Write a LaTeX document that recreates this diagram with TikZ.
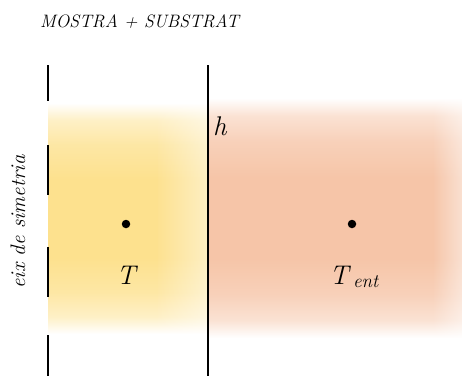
\documentclass[tikz,border=0pt]{standalone}
\usepackage{fontspec}
\usepackage{xcolor}
\usetikzlibrary{fadings}

\definecolor{mostra}{RGB}{253,225,142}
\definecolor{substrat}{RGB}{246,197,168}

\pgfdeclareverticalshading{mostraband}{100bp}{color(0bp)=(white); color(25bp)=(white); color(28.7bp)=(mostra!50); color(34bp)=(mostra!80); color(41.5bp)=(mostra); color(58.5bp)=(mostra); color(66bp)=(mostra!80); color(71.3bp)=(mostra!50); color(75bp)=(white); color(100bp)=(white)}
\pgfdeclareverticalshading{substratband}{100bp}{color(0bp)=(white); color(25bp)=(white); color(28.7bp)=(substrat!50); color(34bp)=(substrat!80); color(41.5bp)=(substrat); color(58.5bp)=(substrat); color(66bp)=(substrat!80); color(71.3bp)=(substrat!50); color(75bp)=(white); color(100bp)=(white)}
\begin{tikzfadingfrompicture}[name=edgefade]
  \shade[left color=transparent!100, right color=transparent!50] (0,0) rectangle (2,2);
\end{tikzfadingfrompicture}

\begin{document}
\begin{tikzpicture}[
  x=1pt, y=-1pt,
  wall/.style={line width=1.7pt, black},
  tempdot/.style={circle, fill=black, inner sep=0pt, minimum size=8.5pt},
  templabel/.style={font=\fontsize{27}{27}\selectfont\itshape, inner sep=0pt},
  title/.style={font=\fontsize{18}{18}\selectfont\itshape, anchor=west, inner sep=0pt},
]
\useasboundingbox (0,0) rectangle (462,376);
% Layout in pixel units: (0,0) top left, y grows downwards.
\def\xaxis{48}     % symmetry axis
\def\xwall{208}    % sample / substrate boundary
\def\xend{462}

% ─── Shaded regions ──────────────────────────────────────────────────────
\shade[shading=mostraband]   (\xaxis, 103) rectangle (\xwall, 334);
\fill[white, path fading=edgefade, fit fading=true] (158, 103) rectangle (\xwall, 334);
\shade[shading=substratband] (\xwall, 98) rectangle (\xend, 338);
\fill[white, path fading=edgefade, fit fading=true] (434, 98) rectangle (\xend, 338);

% ─── Walls ───────────────────────────────────────────────────────────────
\coordinate (walltop) at (\xwall, 65);
\coordinate (wallbot) at (\xwall, 376);
\draw[wall] (walltop) -- (wallbot);

% Symmetry axis, drawn as separate dashes
\foreach \ya/\yb in {65/101, 145/195, 247/297, 335/376}
  \draw[wall] (\xaxis, \ya) -- (\xaxis, \yb);

% ─── Labels ──────────────────────────────────────────────────────────────
\node[title] (titol) at (40, 22) {MOSTRA + SUBSTRAT};
\node[rotate=90, font=\fontsize{21}{21}\selectfont\itshape, inner sep=0pt] (eix) at (18, 222) {eix de simetria};
\node[templabel, anchor=west] (h) at (213, 126) {h};

% ─── Temperature points ──────────────────────────────────────────────────
\node[tempdot] (pT) at (126, 224) {};
\node[templabel] (lT) at (126, 275) {T};

\node[tempdot] (pTent) at (352, 224) {};
\node[templabel] (lTent) at (354, 277) {T\,\raisebox{-0.3ex}{\fontsize{19}{19}\selectfont ent}};

\end{tikzpicture}
\end{document}
